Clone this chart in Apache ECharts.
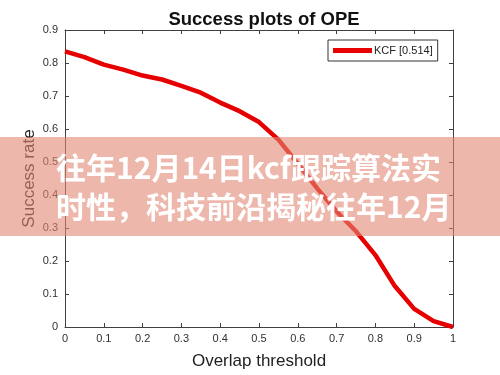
<!DOCTYPE html>
<html>
<head>
<meta charset="utf-8">
<script src="https://cdn.jsdelivr.net/npm/echarts@6/dist/echarts.min.js"></script>
<style>
html,body{margin:0;padding:0;background:#fff;}
#main{width:500px;height:375px;}
</style>
</head>
<body>
<div id="main"></div>
<script>
// Data
const thresholds = [0, 0.05, 0.1, 0.15, 0.2, 0.25, 0.3, 0.35, 0.4, 0.45, 0.5, 0.55, 0.6, 0.65, 0.7, 0.75, 0.8, 0.85, 0.9, 0.95, 1.0];
const kcfSuccess = [0.835, 0.818, 0.795, 0.780, 0.762, 0.750, 0.731, 0.710, 0.680, 0.654, 0.621, 0.568, 0.495, 0.420, 0.350, 0.290, 0.218, 0.124, 0.055, 0.018, 0.0];
const seriesName = 'KCF [0.514]';
const titleText = 'Success plots of OPE';
const xName = 'Overlap threshold';
const yName = 'Success rate';
const bannerLines = ['往年12月14日kcf跟踪算法实', '时性，科技前沿揭秘往年12月'];

const chart = echarts.init(document.getElementById('main'), null, {renderer: 'canvas'});
const axisColor = '#404040';
const labelColor = '#303030';
const font = 'Liberation Sans, Arial, sans-serif';

const tickStyle = {show: true, inside: true, length: 4, lineStyle: {color: axisColor}};

chart.setOption({
  animation: false,
  backgroundColor: '#fff',
  title: {
    text: titleText,
    left: 259, textAlign: 'center', top: 5,
    textStyle: {fontFamily: font, fontSize: 18.5, fontWeight: 'bold', color: '#111'}
  },
  legend: {
    data: [{name: seriesName, icon: 'rect'}],
    left: 328, top: 40,
    backgroundColor: '#fff',
    borderColor: '#333', borderWidth: 1,
    padding: [5, 5, 5, 5],
    itemWidth: 39, itemHeight: 5,
    textStyle: {fontFamily: font, fontSize: 11, color: '#222', padding: [0, 0, 0, -3]}
  },
  grid: {left: 65, right: 47, top: 30, bottom: 46},
  xAxis: [{
    type: 'value', min: 0, max: 1, interval: 0.1,
    name: xName, nameLocation: 'middle', nameGap: 26,
    nameTextStyle: {fontFamily: font, fontSize: 17, color: '#222'},
    axisLine: {show: true, onZero: false, lineStyle: {color: axisColor, width: 1}},
    axisTick: tickStyle,
    axisLabel: {fontFamily: font, fontSize: 11, color: labelColor, margin: 6},
    splitLine: {show: false}
  }, {
    type: 'value', min: 0, max: 1, interval: 0.1, position: 'top',
    axisLine: {show: true, onZero: false, lineStyle: {color: axisColor, width: 1}},
    axisTick: tickStyle,
    axisLabel: {show: false},
    splitLine: {show: false}
  }],
  yAxis: [{
    type: 'value', min: 0, max: 0.9, interval: 0.1,
    name: yName, nameLocation: 'middle', nameGap: 27, nameMoveOverlap: false,
    nameTextStyle: {fontFamily: font, fontSize: 17, color: '#222'},
    axisLine: {show: true, onZero: false, lineStyle: {color: axisColor, width: 1}},
    axisTick: tickStyle,
    axisLabel: {fontFamily: font, fontSize: 11, color: labelColor, margin: 7},
    splitLine: {show: false}
  }, {
    type: 'value', min: 0, max: 0.9, interval: 0.1, position: 'right',
    axisLine: {show: true, onZero: false, lineStyle: {color: axisColor, width: 1}},
    axisTick: tickStyle,
    axisLabel: {show: false},
    splitLine: {show: false}
  }],
  series: [{
    name: seriesName,
    type: 'line',
    data: thresholds.map((t, i) => [t, kcfSuccess[i]]),
    symbol: 'none',
    smooth: false,
    lineStyle: {color: '#e60000', width: 4.5},
    itemStyle: {color: '#e60000'},
    z: 2
  }],
  graphic: [{
    type: 'rect',
    shape: {x: 0, y: 137, width: 500, height: 99},
    style: {fill: 'rgba(225,135,115,0.6)'},
    z: 100
  }, {
    type: 'text',
    x: 56, y: 168,
    style: {text: bannerLines[0], fill: '#fff', font: 'bold 30px "Noto Sans CJK SC", sans-serif', textVerticalAlign: 'middle'},
    z: 101
  }, {
    type: 'text',
    x: 56, y: 207,
    style: {text: bannerLines[1], fill: '#fff', font: 'bold 30px "Noto Sans CJK SC", sans-serif', textVerticalAlign: 'middle'},
    z: 101
  }]
});
</script>
</body>
</html>
